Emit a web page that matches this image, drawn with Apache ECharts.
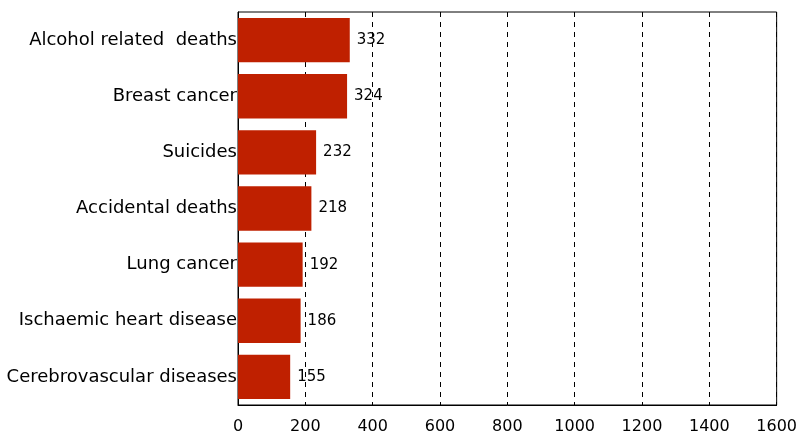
<!DOCTYPE html>
<html>
<head>
<meta charset="utf-8">
<script src="https://cdn.jsdelivr.net/npm/echarts@6/dist/echarts.min.js"></script>
<style>
  html, body { margin: 0; padding: 0; background: #fff; }
  #chart { width: 800px; height: 438px; }
</style>
</head>
<body>
<div id="chart"></div>
<script>
var categories = ['Alcohol related  deaths', 'Breast cancer', 'Suicides', 'Accidental deaths',
	'Lung cancer', 'Ischaemic heart disease', 'Cerebrovascular diseases'];
var deaths = [332, 324, 232, 218, 192, 186, 155];
var xTicks = [0, 200, 400, 600, 800, 1000, 1200, 1400, 1600];

var chart = echarts.init(document.getElementById('chart'));
var option = {
	animation: false,
	grid: {
		left: 238, right: 23, top: 12, bottom: 33,
		show: true, borderColor: '#000', borderWidth: 1, backgroundColor: '#fff'
	},
	xAxis: {
		type: 'value',
		min: xTicks[0],
		max: xTicks[xTicks.length - 1],
		interval: 200,
		axisLine: { show: true, lineStyle: { color: '#000' } },
		axisTick: { show: false },
		axisLabel: {
			color: '#000', fontFamily: 'DejaVu Sans', fontSize: 16, margin: 14,
			formatter: function(v) { return String(v); }
		},
		splitLine: { show: true, lineStyle: { color: '#000', type: [5, 5], width: 1 } }
	},
	yAxis: {
		type: 'category',
		inverse: true,
		data: categories,
		axisLine: { show: true, lineStyle: { color: '#000' } },
		axisTick: { show: false },
		axisLabel: { color: '#000', fontFamily: 'DejaVu Sans', fontSize: 18, margin: 1 },
		splitLine: { show: false }
	},
	series: [{
		type: 'bar',
		data: deaths,
		barWidth: '79%',
		itemStyle: { color: '#BF2000' },
		label: {
			show: true, position: 'right', distance: 7,
			color: '#000', fontFamily: 'DejaVu Sans', fontSize: 15
		}
	}]
};
chart.setOption(option);
</script>
</body>
</html>
